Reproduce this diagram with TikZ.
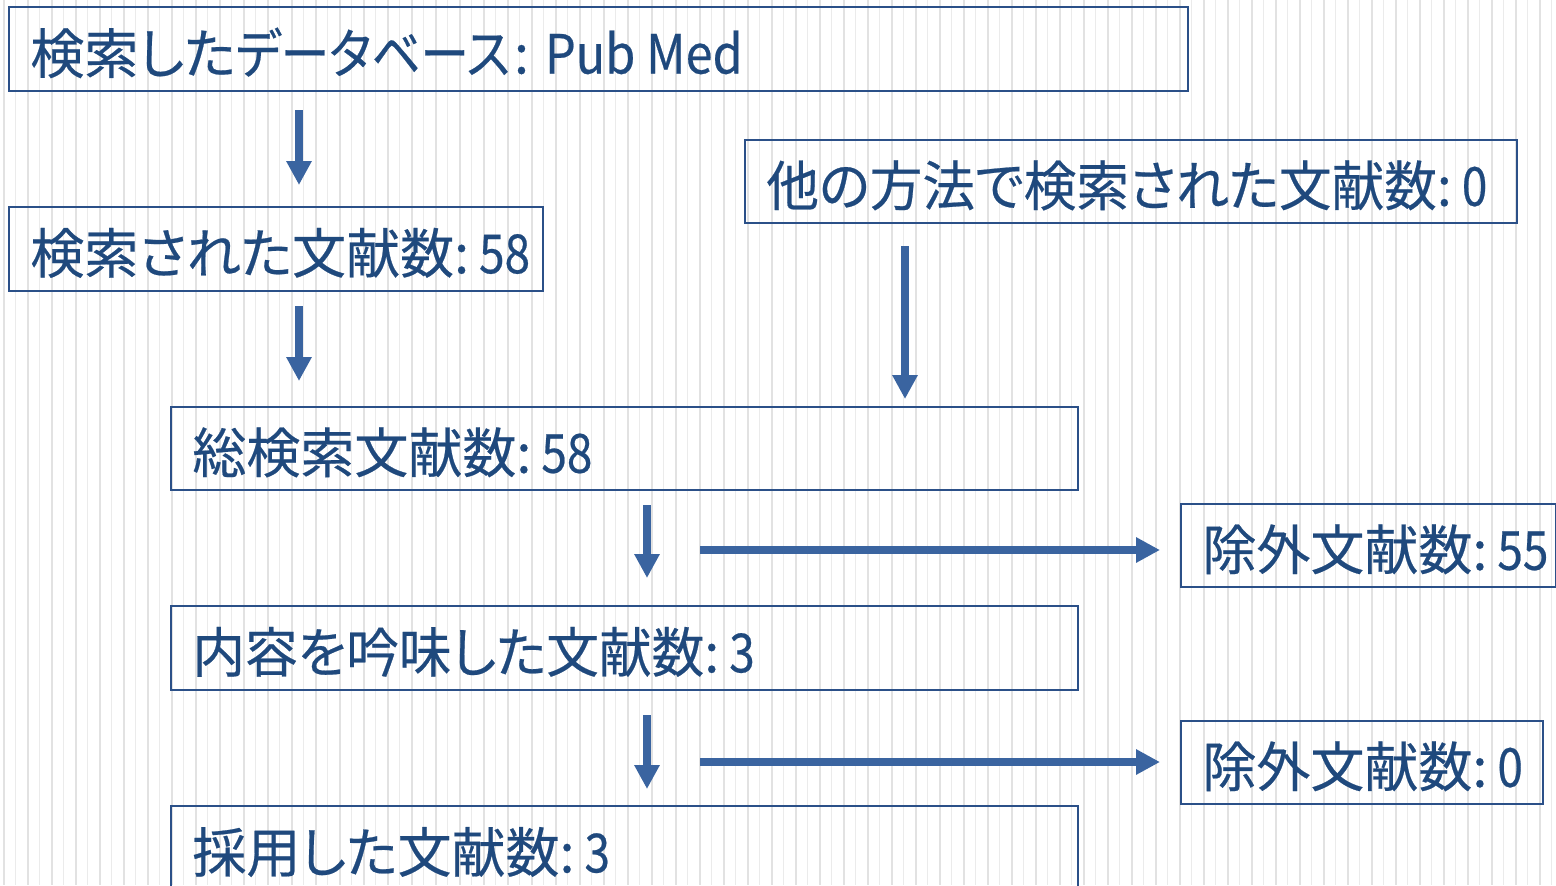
\documentclass[tikz,border=0pt]{standalone}
\usepackage{fontspec}
\setmainfont{Noto Sans CJK JP}[RawFeature=+palt, FakeBold=0.4]
\usetikzlibrary{arrows.meta}
\definecolor{boxline}{HTML}{2B5088}
\definecolor{txtcol}{HTML}{1F497D}
\definecolor{arrcol}{HTML}{3A64A0}
\definecolor{stripeA}{HTML}{E2E2E2}
\definecolor{stripeB}{HTML}{EBEBEB}
\newcommand\nrw[1]{{\addfontfeature{FakeStretch=0.85}#1}}
\newcommand\nrwb[1]{{\addfontfeature{FakeStretch=0.9}#1}}
\newcommand\kn[1]{{\addfontfeature{FakeStretch=0.9}#1}}
\newcommand\kns[1]{{\addfontfeature{FakeStretch=0.975}#1}}
\newcommand\cln{:\hspace{5pt}}
\tikzset{
  stepbox/.style={draw=boxline, line width=0.85pt, rectangle, inner sep=0pt, anchor=north west},
  txt/.style={text=txtcol, inner sep=0pt, anchor=west, font=\fontsize{27pt}{30pt}\selectfont},
  arr/.style={draw=arrcol, line width=3.75pt, -{Triangle[width=12pt,length=12pt]}},
}
\begin{document}
\begin{tikzpicture}[x=0.5pt,y=-0.5pt]
\useasboundingbox (0,0) rectangle (1556,885);
\clip (0,0) rectangle (1556,885);
\fill[white] (0,0) rectangle (1556,885);
\foreach \i in {0,...,129}{
  \pgfmathsetmacro{\xx}{3.7+12*\i}
  \ifodd\i
    \draw[stripeB, line width=0.75pt] (\xx,0) -- (\xx,885);
  \else
    \draw[stripeA, line width=0.9pt] (\xx,0) -- (\xx,885);
  \fi
}
% boxes
\node[stepbox, minimum width=589.5pt, minimum height=42pt] (n1) at (8,6) {};
\node[stepbox, minimum width=386pt, minimum height=41.5pt] (n2) at (744,139) {};
\node[stepbox, minimum width=267pt, minimum height=42pt] (n3) at (8,206) {};
\node[stepbox, minimum width=453.5pt, minimum height=41.5pt] (n4) at (170,406) {};
\node[stepbox, minimum width=187.5pt, minimum height=41.5pt] (n5) at (1180,503) {};
\node[stepbox, minimum width=453.5pt, minimum height=42pt] (n6) at (170,605) {};
\node[stepbox, minimum width=181pt, minimum height=41.5pt] (n7) at (1180,720) {};
\node[stepbox, minimum width=453.5pt, minimum height=50pt] (n8) at (170,805) {};
% texts
\node[txt] (t1) at ([xshift=11pt,yshift=-2pt]n1.west) {検索した\kn{データベース}\hspace{2pt}:\hspace{8pt}\nrwb{Pub Med}};
\node[txt] (t2) at ([xshift=11pt,yshift=-2pt]n2.west) {\kns{他の方法で検索された文献数}\cln\nrw{0}};
\node[txt] (t3) at ([xshift=11pt,yshift=-2pt]n3.west) {検索された文献数\cln\nrw{58}};
\node[txt] (t4) at ([xshift=11pt,yshift=-2pt]n4.west) {総検索文献数\cln\nrw{58}};
\node[txt] (t5) at ([xshift=11pt,yshift=-2pt]n5.west) {除外文献数\cln\nrw{55}};
\node[txt] (t6) at ([xshift=11pt,yshift=-2pt]n6.west) {\kns{内容を吟味した文献数}\cln\nrw{3}};
\node[txt] (t7) at ([xshift=11pt,yshift=-2pt]n7.west) {除外文献数\cln\nrw{0}};
\node[txt] (t8) at ([xshift=11pt]170,852) {採用した文献数\cln\nrw{3}};
% arrow ends
\coordinate (a1) at (299,110); \coordinate (a2) at (299,185);
\coordinate (b1) at (299,306); \coordinate (b2) at (299,381);
\coordinate (c1) at (905,246); \coordinate (c2) at (905,399);
\coordinate (d1) at (647,505); \coordinate (d2) at (647,578);
\coordinate (e1) at (647,715); \coordinate (e2) at (647,789);
\coordinate (f1) at (700,550); \coordinate (f2) at (1160,550);
\coordinate (g1) at (700,762); \coordinate (g2) at (1160,762);
\draw[arr] (a1) -- (a2);
\draw[arr] (b1) -- (b2);
\draw[arr] (c1) -- (c2);
\draw[arr] (d1) -- (d2);
\draw[arr] (e1) -- (e2);
\draw[arr] (f1) -- (f2);
\draw[arr] (g1) -- (g2);
\end{tikzpicture}
\end{document}
